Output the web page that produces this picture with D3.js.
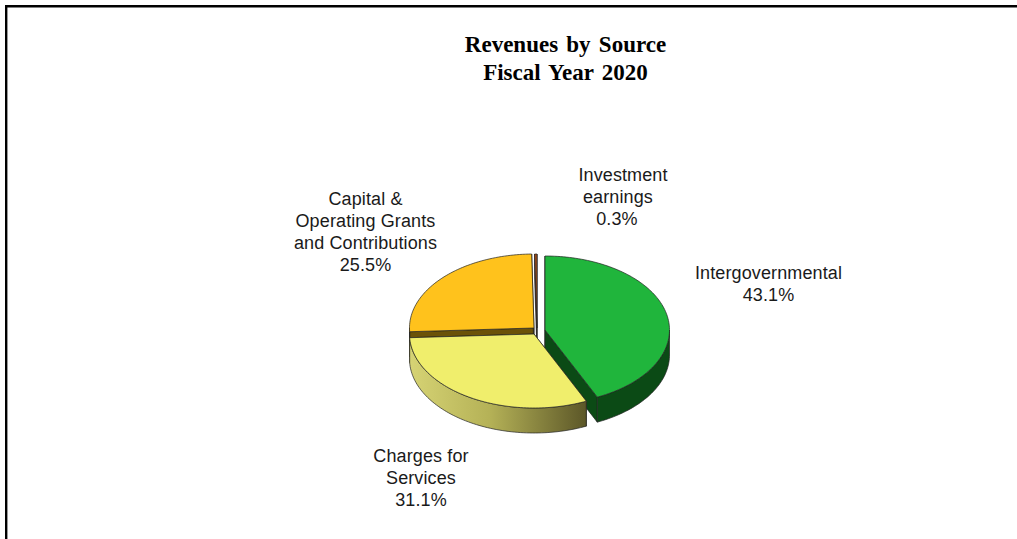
<!DOCTYPE html>
<html><head><meta charset="utf-8">
<script src="https://cdn.jsdelivr.net/npm/d3@7"></script>
<style>html,body{margin:0;padding:0;background:#fff;overflow:hidden}svg{display:block}</style>
</head><body><svg id="c" width="1017" height="539"></svg>
<script>
const categories = ["Intergovernmental","Charges for Services","Capital & Operating Grants and Contributions","Investment earnings"];
const shares = [43.1,31.1,25.5,0.3];
const topColors = ["#20b53c","#f0ee6c","#ffc21c","#a8501a"];
const wallColors = ["#0b4a15","url(#wallY)","#6b5208","#5a2a0c"];
const centers = [[545,330],[534,334],[534,328],[537,328]];
const labelLines = [["Intergovernmental","43.1%"],["Charges for","Services","31.1%"],["Capital &","Operating Grants","and Contributions","25.5%"],["Investment","earnings","0.3%"]];
const labelPos = [[768.5,279],[421,462],[365.5,205],[622,181]];
const labelNudge = [[0,0],[0,0,0],[0,0,0,0],[1,-4,-5]];
const titleLines = ["Revenues by Source","Fiscal Year 2020"];

const svg = d3.select("#c");
const defs = svg.append("defs");
const g = defs.append("linearGradient").attr("id","wallY").attr("x1","0").attr("x2","1").attr("y1","0").attr("y2","0");
g.append("stop").attr("offset","0").attr("stop-color","#d6d374");
g.append("stop").attr("offset","0.45").attr("stop-color","#b5b257");
g.append("stop").attr("offset","1").attr("stop-color","#5c5728");

// frame
svg.append("line").attr("x1",5).attr("x2",1017).attr("y1",6.2).attr("y2",6.2).attr("stroke","#000").attr("stroke-width",2.4);
svg.append("line").attr("x1",6.2).attr("x2",6.2).attr("y1",5).attr("y2",539).attr("stroke","#000").attr("stroke-width",2.4);

const rx = 124.5, ry = 74, depth = 25;
const pie = d3.pie().sort(null).value(d=>d)(shares);
const pt = (c,a,dy=0)=>[c[0]+rx*Math.sin(a), c[1]-ry*Math.cos(a)+dy];
const arcPts = (c,a0,a1,dy=0)=>{const n=Math.max(2,Math.ceil(Math.abs(a1-a0)*40));return d3.range(n+1).map(i=>pt(c,a0+(a1-a0)*i/n,dy));};
const line = d3.line().curve(d3.curveLinear);
const layer = svg.append("g").attr("stroke","#222").attr("stroke-width",0.7).attr("stroke-linejoin","round");

const drawOrder = [3,2,0,1];
drawOrder.forEach(i=>{
  const p = pie[i], c = centers[i], a0 = p.startAngle, a1 = p.endAngle;
  [a0,a1].forEach(a=>{
    const e = pt(c,a);
    layer.append("path").attr("fill",i===1?"#8d8a40":wallColors[i])
      .attr("d",line([c,e,[e[0],e[1]+depth],[c[0],c[1]+depth]])+"Z");
  });
  const v0 = Math.max(a0,Math.PI/2), v1 = Math.min(a1,Math.PI*1.5);
  if(v1>v0){
    layer.append("path").attr("fill",wallColors[i])
      .attr("d",line([...arcPts(c,v0,v1),...arcPts(c,v1,v0,depth)])+"Z");
  }
});
drawOrder.forEach(i=>{
  const p = pie[i], c = centers[i];
  layer.append("path").attr("fill",topColors[i])
    .attr("d",line([c,...arcPts(c,p.startAngle,p.endAngle)])+"Z");
});

const font = "'Liberation Sans',Arial,sans-serif";
categories.forEach((cat,i)=>{
  const t = svg.append("text").attr("text-anchor","middle").attr("font-family",font).attr("font-size",18).attr("letter-spacing",0.12).attr("fill","#1a1a1a");
  labelLines[i].forEach((l,j)=>t.append("tspan").attr("x",labelPos[i][0]+labelNudge[i][j]).attr("y",labelPos[i][1]+j*22).text(l));
});
titleLines.forEach((l,j)=>svg.append("text").attr("x",565.5).attr("y",52+j*28).attr("text-anchor","middle")
  .attr("font-family","'Liberation Serif','Times New Roman',serif").attr("font-weight","bold").attr("font-size",23).attr("word-spacing",2.5).text(l));
</script></body></html>
